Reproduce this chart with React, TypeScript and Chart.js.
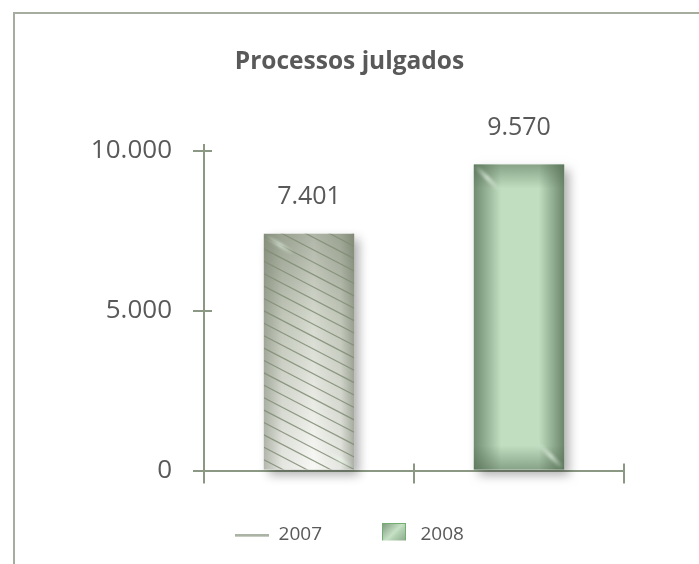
import React, { useEffect, useRef } from 'react';
import { Chart, registerables } from 'chart.js';

Chart.register(...registerables);

// ---- data ----
const years = ['2007', '2008'];
const processosJulgados = [7401, 9570];
const yTickValues = [0, 5000, 10000];
const yMax = 10180;
const chartTitle = 'Processos julgados';

const AXIS = '#8b9984';
const TEXT = '#595959';
const FONT = "'Open Sans', sans-serif";

function fmt(v: number) {
  return String(Math.round(v)).replace(/\B(?=(\d{3})+(?!\d))/g, '.');
}

function makeLineMarker() {
  const c = document.createElement('canvas');
  c.width = 34;
  c.height = 3;
  const g = c.getContext('2d')!;
  g.fillStyle = '#8e9a86';
  g.fillRect(0, 0.5, 34, 2);
  return c;
}

function makeSquareMarker() {
  const c = document.createElement('canvas');
  c.width = 24;
  c.height = 24;
  const g = c.getContext('2d')!;
  const gr = g.createLinearGradient(0, 0, 24, 24);
  gr.addColorStop(0, '#7c967c');
  gr.addColorStop(0.45, '#c6e1c6');
  gr.addColorStop(0.55, '#b3d1b3');
  gr.addColorStop(1, '#7e997e');
  g.fillStyle = gr;
  g.fillRect(0, 0, 24, 24);
  g.strokeStyle = '#72ad72';
  g.lineWidth = 1;
  g.strokeRect(0.5, 0.5, 23, 23);
  return c;
}

function softStreak(ctx: CanvasRenderingContext2D, x0: number, y0: number, x1: number, y1: number) {
  const g = ctx.createLinearGradient(x0, y0, x1, y1);
  g.addColorStop(0, 'rgba(235,248,235,0)');
  g.addColorStop(0.5, 'rgba(235,248,235,0.7)');
  g.addColorStop(1, 'rgba(235,248,235,0)');
  ctx.save();
  ctx.strokeStyle = g;
  ctx.lineWidth = 4;
  ctx.filter = 'blur(1.5px)';
  ctx.beginPath();
  ctx.moveTo(x0, y0);
  ctx.lineTo(x1, y1);
  ctx.stroke();
  ctx.restore();
}

function paint2007(ctx: CanvasRenderingContext2D, l: number, t: number, w: number, h: number) {
  const vg = ctx.createLinearGradient(0, t, 0, t + h);
  vg.addColorStop(0, '#a3aa99');
  vg.addColorStop(0.35, '#cdd2c5');
  vg.addColorStop(1, '#f8f8f5');
  ctx.fillStyle = vg;
  ctx.fillRect(l, t, w, h);
  const hg = ctx.createLinearGradient(l, 0, l + w, 0);
  hg.addColorStop(0, 'rgba(95,105,85,0.45)');
  hg.addColorStop(0.2, 'rgba(95,105,85,0.12)');
  hg.addColorStop(0.55, 'rgba(255,255,255,0.15)');
  hg.addColorStop(0.85, 'rgba(95,105,85,0.12)');
  hg.addColorStop(1, 'rgba(95,105,85,0.5)');
  ctx.fillStyle = hg;
  ctx.fillRect(l, t, w, h);
  ctx.save();
  ctx.beginPath();
  ctx.rect(l, t, w, h);
  ctx.clip();
  ctx.strokeStyle = 'rgba(128,140,116,0.85)';
  ctx.lineWidth = 1.2;
  const slope = 0.52;
  const gap = 12.4;
  ctx.beginPath();
  for (let y0 = t - w * slope; y0 < t + h; y0 += gap) {
    ctx.moveTo(l, y0);
    ctx.lineTo(l + w, y0 + w * slope);
  }
  ctx.stroke();
  softStreak(ctx, l + 2, t + 2, l + 30, t + 20);
  softStreak(ctx, l + w - 26, t + h - 18, l + w - 2, t + h - 2);
  ctx.restore();
}

function paint2008(ctx: CanvasRenderingContext2D, l: number, t: number, w: number, h: number) {
  ctx.fillStyle = '#c1dec1';
  ctx.fillRect(l, t, w, h);
  const dark = (a: number) => `rgba(78,104,78,${a})`;
  let g = ctx.createLinearGradient(l, 0, l + w * 0.3, 0);
  g.addColorStop(0, dark(0.7));
  g.addColorStop(1, dark(0));
  ctx.fillStyle = g;
  ctx.fillRect(l, t, w, h);
  g = ctx.createLinearGradient(l + w, 0, l + w * 0.72, 0);
  g.addColorStop(0, dark(0.75));
  g.addColorStop(1, dark(0));
  ctx.fillStyle = g;
  ctx.fillRect(l, t, w, h);
  g = ctx.createLinearGradient(0, t, 0, t + 24);
  g.addColorStop(0, dark(0.5));
  g.addColorStop(1, dark(0));
  ctx.fillStyle = g;
  ctx.fillRect(l, t, w, h);
  g = ctx.createLinearGradient(0, t + h, 0, t + h - 24);
  g.addColorStop(0, dark(0.5));
  g.addColorStop(1, dark(0));
  ctx.fillStyle = g;
  ctx.fillRect(l, t, w, h);
  ctx.save();
  ctx.beginPath();
  ctx.rect(l, t, w, h);
  ctx.clip();
  softStreak(ctx, l + 1, t + 1, l + 26, t + 26);
  softStreak(ctx, l + w - 26, t + h - 26, l + w - 1, t + h - 1);
  ctx.restore();
}

const painters = [paint2007, paint2008];

const barPlugin = {
  id: 'barStyle',
  afterDatasetsDraw(chart: any) {
    const ctx: CanvasRenderingContext2D = chart.ctx;
    const yScale = chart.scales.y;
    chart.data.datasets.forEach((ds: any, di: number) => {
      const meta = chart.getDatasetMeta(di);
      meta.data.forEach((el: any, i: number) => {
        const v = ds.data[i];
        if (v == null) return;
        const { x, y, base, width } = el.getProps(['x', 'y', 'base', 'width'], true);
        const l = x - width / 2;
        const t = y;
        const h = base - y;
        ctx.save();
        ctx.shadowColor = 'rgba(0,0,0,0.32)';
        ctx.shadowBlur = 10;
        ctx.shadowOffsetX = 5;
        ctx.shadowOffsetY = 5;
        ctx.fillStyle = '#ffffff';
        ctx.fillRect(l, t, width, h);
        ctx.restore();
        painters[di](ctx, l, t, width, h);
        ctx.save();
        ctx.fillStyle = TEXT;
        ctx.font = `25px ${FONT}`;
        ctx.textAlign = 'center';
        ctx.textBaseline = 'middle';
        ctx.fillText(fmt(v), x, yScale.getPixelForValue(v) - 37);
        ctx.restore();
      });
    });
  },
};

const innerTicks = {
  id: 'innerTicks',
  afterDraw(chart: any) {
    const ctx: CanvasRenderingContext2D = chart.ctx;
    const { left, bottom } = chart.chartArea;
    const ys = chart.scales.y;
    const xs = chart.scales.x;
    ctx.save();
    ctx.strokeStyle = AXIS;
    ctx.lineWidth = 2;
    ctx.beginPath();
    ys.ticks.forEach((_t: any, i: number) => {
      const py = Math.round(ys.getPixelForTick(i));
      ctx.moveTo(left, py);
      ctx.lineTo(left + 8, py);
    });
    for (let i = 0; i <= years.length; i++) {
      const px = Math.round(xs.getPixelForValue(i - 0.5));
      ctx.moveTo(px, bottom);
      ctx.lineTo(px, bottom - 7);
    }
    ctx.stroke();
    ctx.restore();
  },
};

export default function App() {
  const ref = useRef<HTMLCanvasElement>(null);
  useEffect(() => {
    document.body.style.margin = '0';
    document.body.style.overflow = 'hidden';
    const markers = [makeLineMarker(), makeSquareMarker()];
    const datasets = years.map((yr, i) => ({
      label: yr,
      data: processosJulgados.map((v, j) => (j === i ? v : null)),
      backgroundColor: i === 0 ? '#cdd2c5' : '#c1dec1',
      skipNull: true,
      barPercentage: 0.43,
      categoryPercentage: 1.0,
    }));
    const chart = new Chart(ref.current!, {
      type: 'bar',
      data: { labels: years, datasets },
      options: {
        responsive: false,
        animation: false,
        devicePixelRatio: 1,
        events: [],
        layout: { padding: { left: 0, right: 0, top: 0, bottom: 23.5 } },
        scales: {
          x: {
            z: 1,
            offset: true,
            grid: { drawOnChartArea: false, color: AXIS, lineWidth: 2, tickLength: 13, offset: true },
            border: { color: AXIS, width: 2 },
            ticks: { display: false },
            afterFit: (s: any) => { s.height = 0; },
          },
          y: {
            z: 1,
            min: 0,
            max: yMax,
            grid: { drawOnChartArea: false, color: AXIS, lineWidth: 2, tickLength: 11 },
            border: { color: AXIS, width: 2 },
            ticks: {
              padding: 21,
              color: TEXT,
              font: { family: FONT, size: 26 },
              callback: (v: any) => fmt(Number(v)),
            },
            afterBuildTicks: (s: any) => {
              s.ticks = yTickValues.map((v) => ({ value: v }));
            },
            afterFit: (s: any) => { s.width = 204; },
          },
          yRight: {
            type: 'linear',
            position: 'right',
            display: true,
            grid: { display: false, drawTicks: false },
            border: { display: false },
            ticks: { display: false },
            afterFit: (s: any) => { s.width = 75; },
          },
        },
        plugins: {
          title: {
            display: true,
            text: chartTitle,
            color: TEXT,
            font: { family: FONT, size: 24.5, weight: 'bold' },
            padding: { top: 47.3, bottom: 68.3 },
          },
          legend: {
            position: 'bottom',
            maxHeight: 70,
            labels: {
              usePointStyle: true,
              pointStyleWidth: 34,
              padding: 55,
              color: TEXT,
              font: { family: FONT, size: 19 },
              generateLabels: (c: any) => {
                const items = (Chart.defaults.plugins.legend.labels as any).generateLabels(c);
                items.forEach((it: any, i: number) => {
                  it.pointStyle = markers[i];
                  it.fontColor = TEXT;
                });
                return items;
              },
            },
          },
          tooltip: { enabled: false },
        },
      } as any,
      plugins: [barPlugin, innerTicks],
    });
    return () => chart.destroy();
  }, []);
  return (
    <div style={{ position: 'relative', width: 699, height: 564, overflow: 'hidden', background: '#ffffff' }}>
      <div
        style={{
          position: 'absolute',
          left: 13,
          top: 12,
          width: 1000,
          height: 1000,
          borderLeft: '2px solid #a6ad9e',
          borderTop: '2px solid #a6ad9e',
        }}
      />
      <canvas ref={ref} width={699} height={564} style={{ position: 'absolute', left: 0, top: 0 }} />
    </div>
  );
}
